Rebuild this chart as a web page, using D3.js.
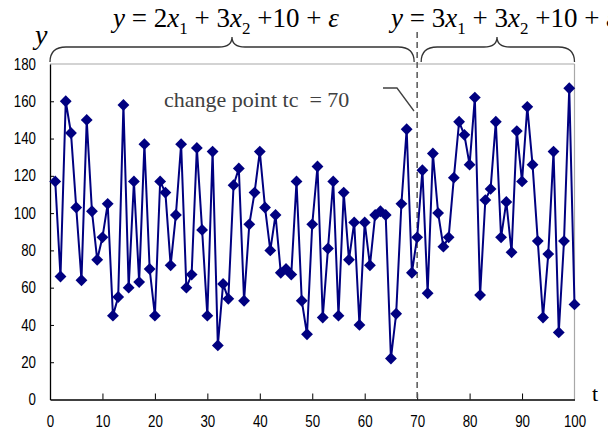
<!DOCTYPE html>
<meta charset="utf-8">
<html>
<script src="https://d3js.org/d3.v7.min.js"></script>
<style>
  body { margin: 0; background: #fff; }
  svg text { white-space: pre; }
</style>
<body>
<svg id="chart"></svg>
<script>
  // -------- data --------
  const values = [117, 66, 160, 143, 103, 64, 150, 101, 75, 87,
                  105, 45, 55, 158, 60, 117, 63, 137, 70, 45,
                  117, 111, 72, 99, 137, 60, 67, 135, 91, 45,
                  133, 29, 62, 54, 115, 124, 53, 94, 111, 133,
                  103, 80, 99, 68, 70, 67, 117, 53, 35, 94,
                  125, 44, 81, 117, 45, 111, 75, 95, 40, 95,
                  72, 99, 101, 99, 22, 46, 105, 145, 68, 87,
                  123, 57, 132, 100, 82, 87, 119, 149, 142, 126,
                  162, 56, 107, 113, 149, 87, 106, 79, 144, 117,
                  157, 126, 85, 44, 78, 133, 36, 85, 167, 51];
  const xTicks = [0, 10, 20, 30, 40, 50, 60, 70, 80, 90, 100];
  const yTicks = [0, 20, 40, 60, 80, 100, 120, 140, 160, 180];
  const changePoint = 70;
  const changeLabel = "change point tc  = 70";

  // -------- layout --------
  const width = 608, height = 439;
  const svg = d3.select("#chart").attr("width", width).attr("height", height);

  const x = d3.scaleLinear().domain([0, 100]).range([50, 574.5]);
  const y = d3.scaleLinear().domain([0, 180]).range([399.5, 64]);

  // frame (top / right in grey)
  svg.append("line").attr("x1", x(0)).attr("x2", x(100)).attr("y1", y(180)).attr("y2", y(180))
      .attr("stroke", "#a8a8a8").attr("stroke-width", 1.2);
  svg.append("line").attr("x1", x(100)).attr("x2", x(100)).attr("y1", y(180)).attr("y2", y(0))
      .attr("stroke", "#a8a8a8").attr("stroke-width", 1.2);

  // axes
  const xAxis = d3.axisBottom(x).tickValues(xTicks).tickSizeInner(-6).tickSizeOuter(0).tickPadding(16);
  const yAxis = d3.axisLeft(y).tickValues(yTicks).tickSizeInner(-4).tickSizeOuter(0).tickPadding(14);

  const gx = svg.append("g").attr("transform", `translate(0,${y(0)})`).call(xAxis);
  const gy = svg.append("g").attr("transform", `translate(${x(0)},0)`).call(yAxis);

  [gx, gy].forEach(g => {
    g.select(".domain").attr("stroke", "#000").attr("stroke-width", 1.3);
    g.selectAll(".tick line").attr("stroke", "#000");
    g.selectAll(".tick text")
      .attr("font-family", "Liberation Sans, Arial, sans-serif")
      .attr("font-size", 16)
      .attr("fill", "#000")
      .attr("textLength", d => String(d).length * 7.4)
      .attr("lengthAdjust", "spacingAndGlyphs");
  });
  gx.selectAll(".tick").filter(d => d == 0 || d == 100).select("line").remove();
  gy.selectAll(".tick").filter(d => d == 0 || d == 180).select("line").remove();

  // change point dashed line
  svg.append("line")
      .attr("x1", x(changePoint)).attr("x2", x(changePoint))
      .attr("y1", 32).attr("y2", y(0))
      .attr("stroke", "#555").attr("stroke-width", 1.5)
      .attr("stroke-dasharray", "6,4");

  // series
  const line = d3.line().x((d, i) => x(i + 1)).y(d => y(d));
  svg.append("path").datum(values)
      .attr("d", line)
      .attr("fill", "none")
      .attr("stroke", "#000080")
      .attr("stroke-width", 2);

  const marker = d3.symbol().type(d3.symbolSquare).size(70);
  svg.append("g").selectAll("path")
      .data(values)
      .enter()
      .append("path")
        .attr("d", marker)
        .attr("transform", (d, i) => `translate(${x(i + 1)},${y(d)}) rotate(45)`)
        .attr("fill", "#000080");

  // change point label + leader
  svg.append("text")
      .attr("x", 164).attr("y", 107)
      .attr("font-family", "Liberation Serif, Times New Roman, serif")
      .attr("font-size", 22)
      .attr("fill", "#404040")
      .text(changeLabel);
  svg.append("polyline")
      .attr("points", "383,88 397,88 414,111")
      .attr("fill", "none").attr("stroke", "#404040").attr("stroke-width", 1.3);

  // braces over the two regimes
  function brace(x0, x1, mid) {
    const yb = 47, ye = 62, yp = 37;
    return `M${x0},${ye} Q${x0},${yb} ${x0 + 16},${yb} L${mid - 13},${yb} Q${mid},${yb} ${mid},${yp}` +
           ` Q${mid},${yb} ${mid + 13},${yb} L${x1 - 16},${yb} Q${x1},${yb} ${x1},${ye}`;
  }
  svg.append("path").attr("d", brace(x(0), x(changePoint) - 3, 232))
      .attr("fill", "none").attr("stroke", "#333").attr("stroke-width", 1.3);
  svg.append("path").attr("d", brace(x(changePoint) + 4, x(100), 497))
      .attr("fill", "none").attr("stroke", "#333").attr("stroke-width", 1.3);

  // formulas
  function formula(x0, y0, parts) {
    const t = svg.append("text")
        .attr("x", x0).attr("y", y0)
        .attr("font-family", "Liberation Serif, Times New Roman, serif")
        .attr("font-size", 27)
        .attr("fill", "#000");
    parts.forEach(p => {
      const s = t.append("tspan").text(p[0]);
      if (p[1] == "i") s.attr("font-style", "italic");
      if (p[1] == "sub") s.attr("font-size", 17).attr("dy", 7);
      if (p[1] == "after") s.attr("dy", -7);
    });
  }
  formula(113, 27, [["y", "i"], [" = 2"], ["x", "i"], ["1", "sub"], [" + 3", "after"], ["x", "i"],
                    ["2", "sub"], [" +10 + ", "after"], ["ε", "i"]]);
  formula(391, 27, [["y", "i"], [" = 3"], ["x", "i"], ["1", "sub"], [" + 3", "after"], ["x", "i"],
                    ["2", "sub"], [" +10 + ", "after"], ["ε", "i"]]);

  // axis titles
  svg.append("text").attr("x", 35).attr("y", 44)
      .attr("font-family", "Liberation Serif, Times New Roman, serif")
      .attr("font-size", 28).attr("font-style", "italic")
      .text("y");
  svg.append("text").attr("x", 592).attr("y", 401)
      .attr("font-family", "Liberation Serif, Times New Roman, serif")
      .attr("font-size", 22)
      .text("t");
</script>
</body>
</html>
